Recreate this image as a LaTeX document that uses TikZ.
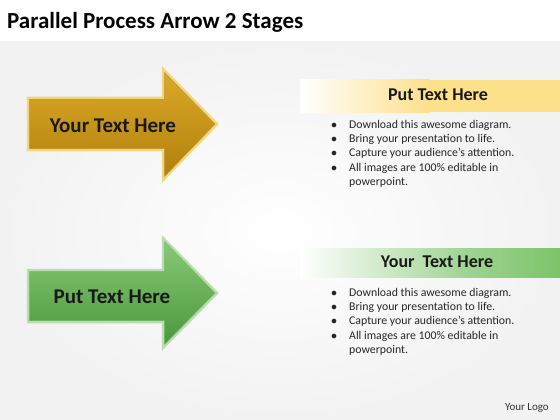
\documentclass[tikz,border=0pt]{standalone}
\usepackage{fontspec}
\setmainfont{Carlito}
\usetikzlibrary{positioning}

\definecolor{goldlight}{HTML}{DCAA2A}
\definecolor{golddark}{HTML}{B07F0A}
\definecolor{goldedge}{HTML}{F2D77A}
\definecolor{greenlight}{HTML}{8ACB78}
\definecolor{greendark}{HTML}{48963A}
\definecolor{greenedge}{HTML}{B9DDAE}
\definecolor{bandyellow}{HTML}{FDE08A}
\definecolor{bandgreen}{HTML}{7CC46A}
\definecolor{pagegray}{HTML}{F2F2F2}

\tikzset{
  arrowtext/.style={font=\fontsize{21}{24}\selectfont\bfseries, text=black!90},
  bandtitle/.style={font=\fontsize{18}{21}\selectfont\bfseries, text=black!90},
  bullets/.style={font=\fontsize{11.8}{14.3}\selectfont, text=black!85, align=left, anchor=north west, inner sep=0pt}
}

\newcommand{\bulletlist}{%
  \begin{tabular}{@{}l@{\hspace{12pt}}l@{}}
  $\bullet$ & Download this awesome diagram.\\
  $\bullet$ & Bring your presentation to life.\\
  $\bullet$ & Capture your audience’s attention.\\
  $\bullet$ & All images are 100\% editable in\\
            & powerpoint.
  \end{tabular}}

\begin{document}
\begin{tikzpicture}[x=1pt,y=-1pt]
    \useasboundingbox (0,0) rectangle (560,420);
    \fill[white] (0,0) rectangle (560,42);
    \shade[inner color=white, outer color=pagegray] (0,42) rectangle (560,420);

    \node[anchor=base west, inner sep=0pt, font=\fontsize{23}{27}\selectfont\bfseries] (title) at (7,29) {Parallel Process Arrow 2 Stages};

    % gold arrow
    \draw[line width=2.5pt, goldedge, shading angle=-60, top color=goldlight, bottom color=golddark, line join=miter]
      (28,98)--(163,98)--(163,69)--(217,124)--(163,180)--(163,150)--(28,150)--cycle;
    \draw[line width=0.5pt, golddark!80] (29.5,99.5)--(164.5,99.5)--(164.5,72.5)--(215,124)--(164.5,176.5)--(164.5,148.5)--(29.5,148.5)--cycle;
    \node[arrowtext] (goldtext) at (113,126) {Your Text Here};

    % green arrow
    \draw[line width=2.5pt, greenedge, top color=greenlight, bottom color=greendark, line join=miter]
      (28,270)--(163,270)--(163,238)--(217,293)--(163,348)--(163,322)--(28,322)--cycle;
    \draw[line width=0.5pt, greendark!70] (29.5,271.5)--(164.5,271.5)--(164.5,241.5)--(215,293)--(164.5,344.5)--(164.5,320.5)--(29.5,320.5)--cycle;
    \node[arrowtext] (greentext) at (112,297) {Put Text Here};

    % right bands
    \shade[left color=white, right color=bandyellow] (300,80) rectangle (430,112);
    \fill[bandyellow] (429.5,80) rectangle (560,112);
    \node[bandtitle] (goldhead) at (438,95) {Put Text Here};
    \node[bullets] (goldlist) at (331,118) {\bulletlist};

    \shade[left color=white, right color=bandgreen!75] (300,248) rectangle (470,277);
    \shade[left color=bandgreen!75, right color=bandgreen] (469.5,248) rectangle (560,277);
    \node[bandtitle] (greenhead) at (437,262) {Your\ \ Text Here};
    \node[bullets] (greenlist) at (331,286) {\bulletlist};

    \node[anchor=base east, inner sep=0pt, font=\fontsize{11}{13}\selectfont, text=black!80] (logo) at (549,410) {Your Logo};
\end{tikzpicture}
\end{document}
